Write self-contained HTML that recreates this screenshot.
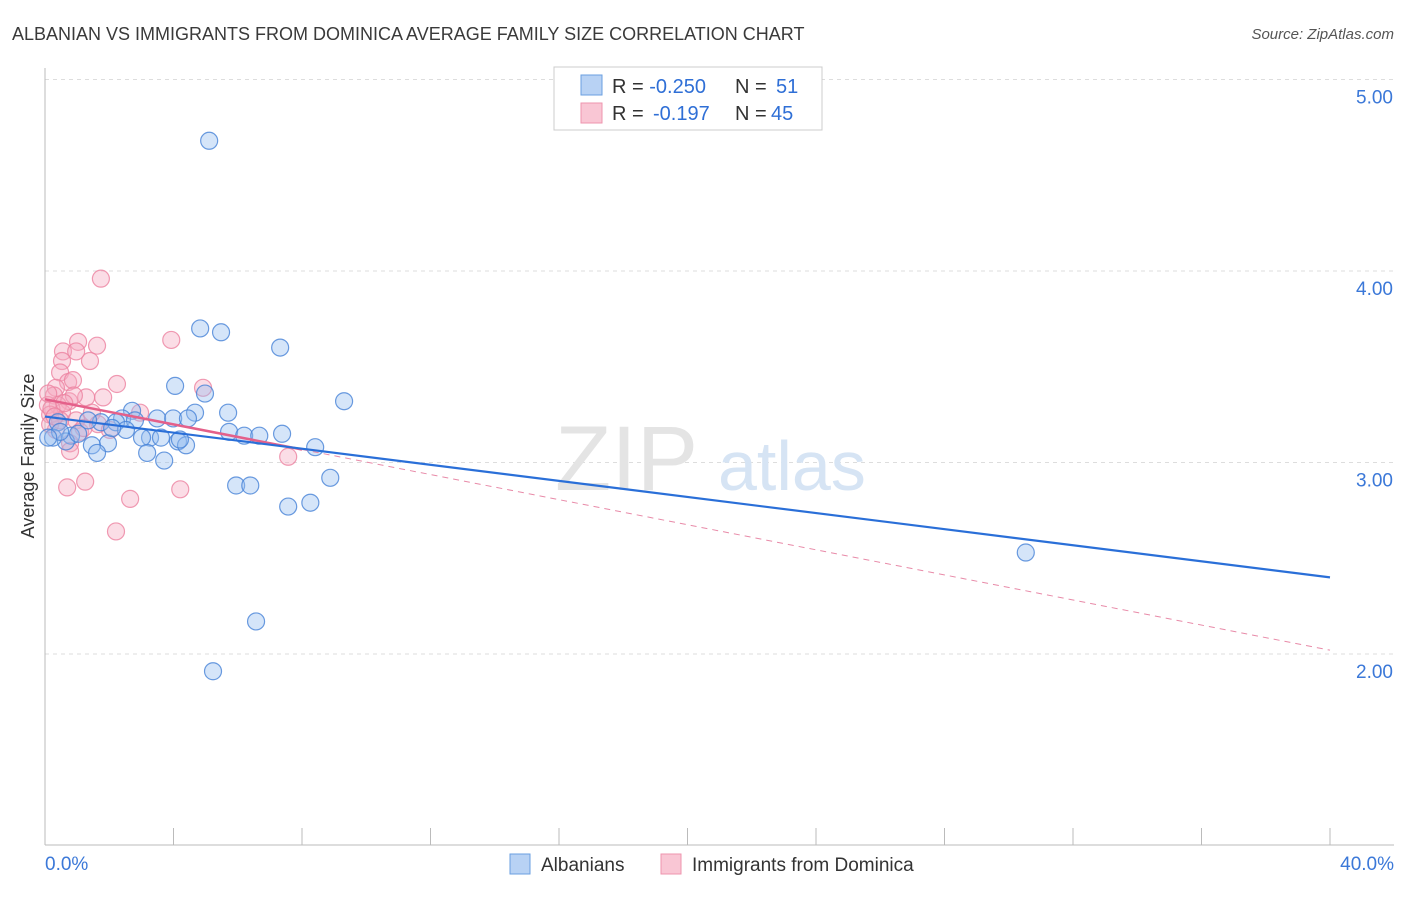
<!DOCTYPE html>
<html><head><meta charset="utf-8"><style>
body{margin:0;background:#fff;font-family:"Liberation Sans",sans-serif}
svg text{font-family:"Liberation Sans",sans-serif}
</style></head><body>
<svg width="1406" height="892">
<text x="12" y="40" font-size="18" fill="#3a3a3a">ALBANIAN VS IMMIGRANTS FROM DOMINICA AVERAGE FAMILY SIZE CORRELATION CHART</text>
<text x="1394" y="39" font-size="15" fill="#555" font-style="italic" text-anchor="end">Source: ZipAtlas.com</text>
<g id="grid"></g>
<g id="axes"></g>
<text x="555" y="490" font-size="92" fill="#e4e4e4" font-family="Liberation Serif">ZIP</text>
<text x="718" y="490" font-size="70" fill="#d6e4f4">atlas</text>
<g id="pts"></g>
<g id="lines"></g>
<text x="34" y="456" font-size="18" fill="#333" text-anchor="middle" transform="rotate(-90 34 456)">Average Family Size</text>
<g>
<rect x="554" y="67" width="268" height="63" fill="#fff" stroke="#ccc"/>
<rect x="581" y="75" width="21" height="20" fill="#b8d2f4" stroke="#6a9fe0"/>
<rect x="581" y="103" width="21" height="20" fill="#f9c6d4" stroke="#ee94ae"/>
<text x="612" y="93" font-size="20" fill="#333">R = <tspan fill="#2f6fd6">-0.250</tspan><tspan x="735">N = </tspan><tspan fill="#2f6fd6" x="776">51</tspan></text>
<text x="612" y="120" font-size="20" fill="#333">R = <tspan fill="#2f6fd6" x="653">-0.197</tspan><tspan x="735">N = </tspan><tspan fill="#2f6fd6" x="771">45</tspan></text>
</g>
<g>
<rect x="510" y="854" width="20" height="20" fill="#b8d2f4" stroke="#6a9fe0"/>
<text x="541" y="871" font-size="19" fill="#333">Albanians</text>
<rect x="661" y="854" width="20" height="20" fill="#f9c6d4" stroke="#ee94ae"/>
<text x="692" y="871" font-size="19" fill="#333">Immigrants from Dominica</text>
</g>
</svg>
<script>
const yTicks=[5,4,3,2];
const yTickLabels=["5.00","4.00","3.00","2.00"];
const xTickVals=[0,4,8,12,16,20,24,28,32,36,40];
const albX=[5.11,4.83,5.48,7.32,9.31,4.05,4.98,4.67,5.70,2.71,3.49,3.99,4.45,2.40,2.80,1.74,2.21,0.40,5.73,6.20,6.67,7.38,3.27,3.61,4.14,4.39,3.02,2.52,1.96,1.46,1.62,3.18,3.71,8.41,0.81,0.65,0.25,0.47,8.88,5.95,6.39,7.57,8.26,30.53,6.57,5.23,1.03,1.34,2.09,0.1,4.2];
const albY=[4.68,3.70,3.68,3.60,3.32,3.40,3.36,3.26,3.26,3.27,3.23,3.23,3.23,3.23,3.22,3.21,3.21,3.21,3.16,3.14,3.14,3.15,3.13,3.13,3.11,3.09,3.13,3.17,3.10,3.09,3.05,3.05,3.01,3.08,3.14,3.11,3.13,3.16,2.92,2.88,2.88,2.77,2.79,2.53,2.17,1.91,3.15,3.22,3.18,3.13,3.12];
const domX=[1.74,3.93,1.03,1.62,0.56,0.97,1.40,0.53,0.47,0.72,2.24,0.87,4.92,0.34,0.28,1.81,1.28,0.75,0.40,0.09,2.96,1.46,0.53,0.16,0.97,1.65,1.09,0.34,0.78,0.78,7.57,1.25,0.69,4.21,2.65,2.21,0.16,0.47,2.02,0.90,0.2,0.6,1.2,0.3,0.1];
const domY=[3.96,3.64,3.63,3.61,3.58,3.58,3.53,3.53,3.47,3.42,3.41,3.43,3.39,3.39,3.35,3.34,3.34,3.32,3.30,3.30,3.26,3.26,3.26,3.25,3.22,3.20,3.16,3.17,3.10,3.06,3.03,2.90,2.87,2.86,2.81,2.64,3.20,3.22,3.17,3.35,3.28,3.31,3.18,3.24,3.36];
const albLine=[3.24,2.40];
const domLine=[3.33,2.02];
const X=v=>45+v/40*1285, Y=v=>79.5+(5-v)*191.5;
const NS="http://www.w3.org/2000/svg";
function mk(p,t,a){const e=document.createElementNS(NS,t);for(const k in a)e.setAttribute(k,a[k]);p.appendChild(e);return e;}
const grid=document.getElementById('grid'),axes=document.getElementById('axes');
yTicks.forEach((v,i)=>{
 const l=mk(grid,'line',{x1:45,x2:1394,y1:Y(v),y2:Y(v),stroke:'#ddd','stroke-dasharray':'4 4'});
 
 
 const t=mk(grid,'text',{x:1393,y:Y(v)+24,'font-size':19,fill:'#3b78d8','text-anchor':'end'});
 t.textContent=yTickLabels[i];
 
 
});
mk(axes,'line',{x1:45,x2:45,y1:68,y2:845,stroke:'#bbb'});
mk(axes,'line',{x1:45,x2:1394,y1:845,y2:845,stroke:'#bbb'});
xTickVals.forEach(v=>{
 const l=mk(axes,'line',{x1:X(v),x2:X(v),y1:828,y2:845,stroke:'#bbb'});
 
 
});
let t=mk(axes,'text',{x:45,y:870,'font-size':19,fill:'#3b78d8'});t.textContent='0.0%';


t=mk(axes,'text',{x:1394,y:870,'font-size':19,fill:'#3b78d8','text-anchor':'end'});t.textContent='40.0%';


const pts=document.getElementById('pts');
domX.forEach((x,i)=>{const c=mk(pts,'circle',{cx:X(x),cy:Y(domY[i]),r:8.5,fill:'rgba(246,170,192,0.4)',stroke:'rgba(236,130,160,0.8)','stroke-width':1.2});
 
 });
albX.forEach((x,i)=>{const c=mk(pts,'circle',{cx:X(x),cy:Y(albY[i]),r:8.5,fill:'rgba(150,190,240,0.4)',stroke:'rgba(70,130,215,0.8)','stroke-width':1.2});
 
 });
const lines=document.getElementById('lines');
const dy=x=>domLine[0]+(domLine[1]-domLine[0])*x/40;
let l=mk(lines,'line',{x1:X(8),y1:Y(dy(8)),x2:X(40),y2:Y(domLine[1]),stroke:'#e88aa8','stroke-width':1,'stroke-dasharray':'6 5'});


l=mk(lines,'line',{x1:X(0),y1:Y(domLine[0]),x2:X(8),y2:Y(dy(8)),stroke:'#e4608a','stroke-width':2.5});


l=mk(lines,'line',{x1:X(0),y1:Y(albLine[0]),x2:X(40),y2:Y(albLine[1]),stroke:'#2a6fd8','stroke-width':2.2});


</script>
</body></html>
